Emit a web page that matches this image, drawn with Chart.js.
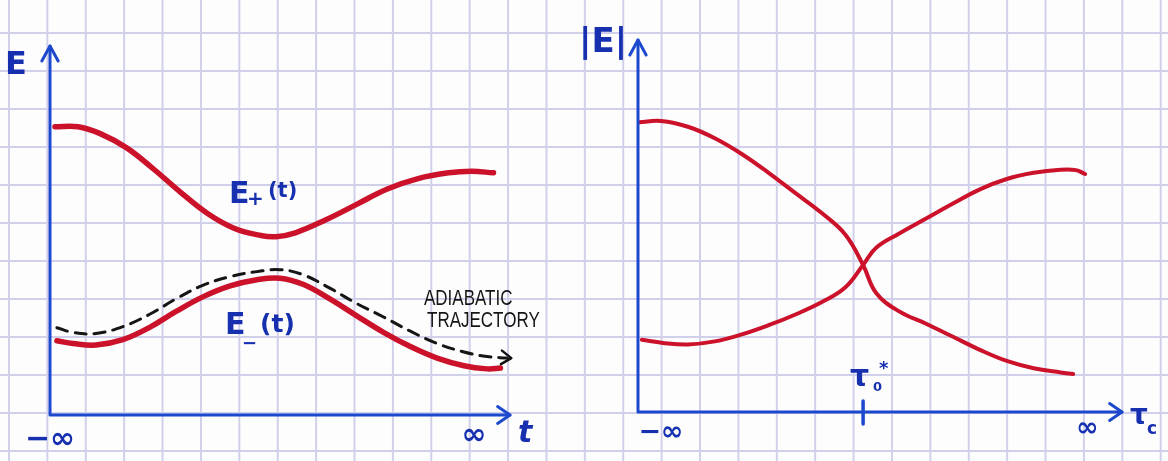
<!DOCTYPE html>
<html lang="en">
<head>
<meta charset="UTF-8">
<title>Adiabatic energy levels</title>
<script src="https://cdn.jsdelivr.net/npm/chart.js"></script>
<style>
  body {
    margin: 0;
    width: 1168px;
    height: 461px;
    overflow: hidden;
    position: relative;
    background-color: #fdfdfe;
    /* squared paper */
    background-image:
      linear-gradient(to right, #d0d0ea 2px, transparent 2px),
      linear-gradient(to bottom, #d0d0ea 2px, transparent 2px);
    background-size: 38.4px 38px;
    background-position: 8px 32px;
  }
  .panel { position: absolute; top: 0; height: 461px; }
  #leftPanel { left: 0; width: 570px; }
  #rightPanel { left: 570px; width: 598px; }
</style>
</head>
<body>
<div class="panel" id="leftPanel"><canvas id="leftChart"></canvas></div>
<div class="panel" id="rightPanel"><canvas id="rightChart"></canvas></div>

<script>
// ---- left panel: E(t), units are grid squares ----
const ePlusT  = [0.13, 0.73, 1.31, 2.0, 2.7, 3.4, 4.1, 4.8, 5.5, 5.9, 6.4, 7.2, 8.0, 8.8, 9.6, 10.4, 11.0, 11.57];
const ePlusE  = [7.50, 7.50, 7.32, 6.95, 6.40, 5.80, 5.25, 4.86, 4.67, 4.64, 4.74, 5.08, 5.48, 5.88, 6.15, 6.30, 6.34, 6.30];
const eMinusT = [0.18, 0.60, 1.2, 1.9, 2.6, 3.3, 4.0, 4.7, 5.4, 6.0, 6.6, 7.3, 8.0, 8.7, 9.4, 10.1, 10.8, 11.4, 11.75];
const eMinusE = [1.93, 1.86, 1.82, 1.96, 2.28, 2.70, 3.08, 3.36, 3.52, 3.56, 3.40, 3.02, 2.58, 2.15, 1.78, 1.48, 1.28, 1.20, 1.22];
const adiabT  = [0.18, 0.60, 1.2, 1.9, 2.6, 3.3, 4.0, 4.7, 5.4, 6.0, 6.6, 7.3, 8.0, 8.7, 9.4, 10.1, 10.8, 11.4, 11.93];
const adiabE  = [2.27, 2.15, 2.12, 2.30, 2.62, 3.03, 3.38, 3.60, 3.73, 3.78, 3.65, 3.30, 2.90, 2.55, 2.18, 1.86, 1.64, 1.52, 1.48];

// ---- right panel: |E| against tau_c ----
const tau0 = 5.86;
const fallT = [0.03, 0.6, 1.3, 2.0, 2.7, 3.4, 4.1, 4.8, 5.4, tau0, 6.2, 6.8, 7.5, 8.2, 8.9, 9.6, 10.3, 11.0, 11.33];
const fallE = [7.55, 7.58, 7.43, 7.13, 6.72, 6.23, 5.70, 5.17, 4.62, 3.83, 3.10, 2.62, 2.30, 1.96, 1.62, 1.33, 1.14, 1.03, 0.99];
const riseT = [0.10, 0.65, 1.3, 2.0, 2.7, 3.4, 4.1, 4.8, 5.4, tau0, 6.2, 6.8, 7.5, 8.2, 8.9, 9.6, 10.3, 11.0, 11.4, 11.64];
const riseE = [1.88, 1.80, 1.76, 1.84, 2.02, 2.26, 2.54, 2.87, 3.25, 3.83, 4.28, 4.65, 5.04, 5.43, 5.80, 6.07, 6.23, 6.31, 6.30, 6.20];

const RED = 'rgb(203,18,42)';
const BLUE = 'rgb(28,72,205)';
const INK = 'rgb(22,48,175)';

function pts(xs, ys) {
  return xs.map((x, i) => ({ x: x, y: ys[i] }));
}

function text(ctx, str, x, y, font, color, align) {
  ctx.font = font;
  ctx.fillStyle = color;
  ctx.textAlign = align || 'left';
  ctx.fillText(str, x, y);
}

// open arrowhead, tip at (x, y), pointing along angle
function arrowHead(ctx, x, y, angle, len, spread) {
  ctx.beginPath();
  ctx.moveTo(x + len * Math.cos(angle + Math.PI - spread), y + len * Math.sin(angle + Math.PI - spread));
  ctx.lineTo(x, y);
  ctx.lineTo(x + len * Math.cos(angle + Math.PI + spread), y + len * Math.sin(angle + Math.PI + spread));
  ctx.stroke();
}

function drawAxes(ctx, a, lw) {
  ctx.strokeStyle = BLUE;
  ctx.lineWidth = lw;
  ctx.lineCap = 'round';
  ctx.lineJoin = 'round';
  ctx.beginPath();
  ctx.moveTo(a.left, a.bottom);
  ctx.lineTo(a.left, a.top);
  ctx.moveTo(a.left, a.bottom);
  ctx.lineTo(a.right, a.bottom);
  ctx.stroke();
  arrowHead(ctx, a.left, a.top, -Math.PI / 2, 17, 0.5);
  arrowHead(ctx, a.right, a.bottom, 0, 15, 0.6);
}

const leftDecor = {
  id: 'leftDecor',
  afterDatasetsDraw(chart) {
    const ctx = chart.ctx;
    const a = chart.chartArea;
    ctx.save();
    drawAxes(ctx, a, 3);

    // arrowhead at the end of the dashed trajectory
    const el = chart.getDatasetMeta(2).data;
    const p1 = el[el.length - 2], p2 = el[el.length - 1];
    ctx.strokeStyle = '#111';
    ctx.lineWidth = 2.5;
    ctx.setLineDash([]);
    arrowHead(ctx, p2.x + 4, p2.y, Math.atan2(p2.y - p1.y, p2.x - p1.x), 12, 0.6);

    ctx.textBaseline = 'alphabetic';
    text(ctx, 'E', 5, 74, 'bold 32px "DejaVu Sans"', INK);
    text(ctx, 't', 518, 442, 'italic bold 30px "DejaVu Sans"', INK);
    ctx.textBaseline = 'middle';
    text(ctx, '−∞', a.left, 440, 'bold 30px "DejaVu Sans"', INK, 'center');
    text(ctx, '∞', 474, 436, 'bold 30px "DejaVu Sans"', INK, 'center');
    ctx.textBaseline = 'alphabetic';

    // level labels
    text(ctx, 'E', 229, 203, 'bold 30px "DejaVu Sans"', INK);
    text(ctx, '+', 247, 205, 'bold 20px "DejaVu Sans"', INK);
    text(ctx, '(t)', 268, 197, 'bold 21px "DejaVu Sans"', INK);
    text(ctx, 'E', 225, 334, 'bold 30px "DejaVu Sans"', INK);
    text(ctx, '−', 242, 349, 'bold 18px "DejaVu Sans"', INK);
    text(ctx, '(t)', 260, 332, 'bold 25px "DejaVu Sans"', INK);

    ctx.save();
    ctx.scale(1, 1.25);
    text(ctx, 'ADIABATIC', 424, 305 / 1.25, '17px "Liberation Sans"', '#151515');
    text(ctx, 'TRAJECTORY', 427, 327 / 1.25, '17px "Liberation Sans"', '#151515');
    ctx.restore();
    ctx.restore();
  }
};

const rightDecor = {
  id: 'rightDecor',
  afterDatasetsDraw(chart) {
    const ctx = chart.ctx;
    const a = chart.chartArea;
    const xs = chart.scales.x;
    ctx.save();
    drawAxes(ctx, a, 3);

    // tick at tau_0*
    const tx = xs.getPixelForValue(tau0);
    ctx.lineWidth = 3.5;
    ctx.beginPath();
    ctx.moveTo(tx, a.bottom - 11);
    ctx.lineTo(tx, a.bottom + 12);
    ctx.stroke();

    ctx.textBaseline = 'alphabetic';
    text(ctx, '|E|', 9, 52, 'bold 34px "DejaVu Sans"', INK);
    text(ctx, 'τ', tx - 13, 386, 'bold 30px "DejaVu Sans"', INK);
    text(ctx, '0', tx + 10, 391, 'bold 13px "DejaVu Sans"', INK);
    text(ctx, '*', tx + 16, 374, 'bold 18px "DejaVu Sans"', INK);
    text(ctx, 'τ', a.right + 8, 424, 'bold 28px "DejaVu Sans"', INK);
    text(ctx, 'c', a.right + 25, 434, 'bold 17px "DejaVu Sans"', INK);
    ctx.textBaseline = 'middle';
    text(ctx, '−∞', xs.getPixelForValue(0.6), 433, 'bold 27px "DejaVu Sans"', INK, 'center');
    text(ctx, '∞', xs.getPixelForValue(11.7), 429, 'bold 27px "DejaVu Sans"', INK, 'center');
    ctx.restore();
  }
};

function baseOptions(pad, xMax, yMax) {
  return {
    responsive: true,
    maintainAspectRatio: false,
    animation: false,
    layout: { padding: pad },
    plugins: { legend: { display: false }, tooltip: { enabled: false } },
    elements: { point: { radius: 0 } },
    scales: {
      x: { type: 'linear', display: false, min: 0, max: xMax },
      y: { type: 'linear', display: false, min: 0, max: yMax }
    }
  };
}

function line(data, color, width, dash) {
  return {
    data: data,
    borderColor: color,
    borderWidth: width,
    borderDash: dash || [],
    borderCapStyle: 'round',
    tension: 0.4,
    fill: false,
    clip: false
  };
}

new Chart(document.getElementById('leftChart'), {
  type: 'line',
  data: {
    datasets: [
      line(pts(ePlusT, ePlusE), RED, 5.5),
      line(pts(eMinusT, eMinusE), RED, 5.5),
      line(pts(adiabT, adiabE), '#151515', 3, [11, 8])
    ]
  },
  options: baseOptions({ left: 50, right: 60, top: 46, bottom: 46 }, 12, 9.6),
  plugins: [leftDecor]
});

new Chart(document.getElementById('rightChart'), {
  type: 'line',
  data: {
    datasets: [
      line(pts(fallT, fallE), RED, 4),
      line(pts(riseT, riseE), RED, 4)
    ]
  },
  options: baseOptions({ left: 68, right: 46, top: 40, bottom: 49 }, 12.6, 9.69),
  plugins: [rightDecor]
});
</script>
</body>
</html>
